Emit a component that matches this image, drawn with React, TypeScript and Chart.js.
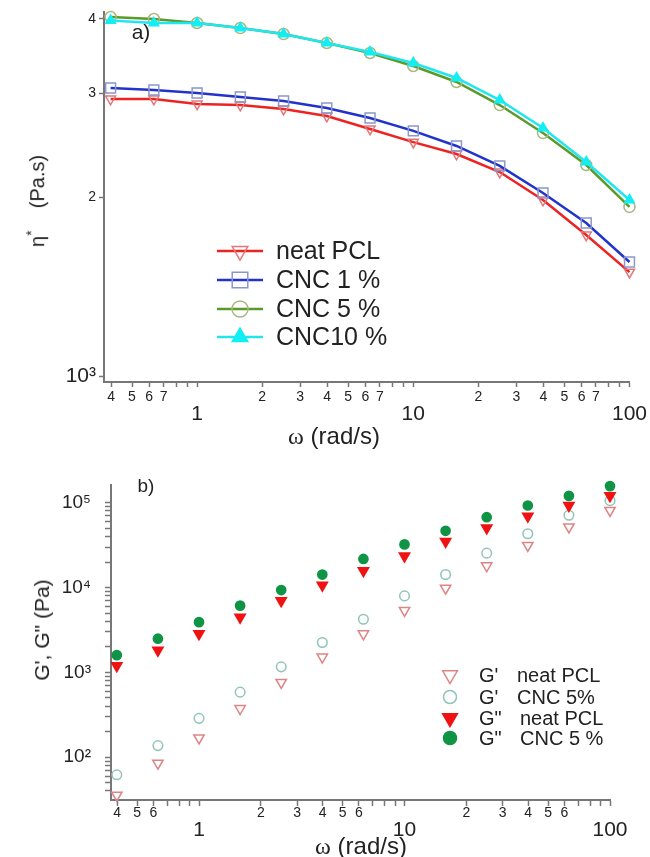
import React, { useEffect, useRef } from 'react';
import { Chart, registerables } from 'chart.js';
import { drawPoint } from 'chart.js/helpers';

Chart.register(...registerables);

const FONT = '"Liberation Sans", Arial, sans-serif';
const AXIS = '#777777';
const TEXT = '#222222';

// angular frequency (rad/s)
const freq = [0.398, 0.631, 1, 1.585, 2.512, 3.981, 6.31, 10, 15.85, 25.12, 39.81, 63.1, 100];

// panel a: complex viscosity (Pa.s)
const etaNeat = [2932, 2932, 2876, 2864, 2820, 2744, 2610, 2480, 2368, 2208, 1981, 1729, 1497];
const etaCnc1 = [3060, 3036, 3001, 2954, 2909, 2831, 2724, 2590, 2443, 2261, 2035, 1811, 1557];
const etaCnc5 = [4031, 4000, 3938, 3862, 3773, 3644, 3505, 3333, 3132, 2864, 2569, 2269, 1928];
const etaCnc10 = [3975, 3938, 3938, 3862, 3773, 3644, 3519, 3372, 3181, 2920, 2619, 2296, 1981];
const etaLabels = ['neat PCL', 'CNC 1 %', 'CNC 5 %', 'CNC10 %'];

// panel b: moduli (Pa)
const gpNeat = [35.7, 85, 169, 374, 762, 1513, 2850, 5370, 9840, 18060, 31400, 51850, 81200];
const gpCnc5 = [62, 137, 287, 585, 1162, 2248, 4234, 7970, 14240, 25430, 43100, 71100, 105700];
const gppNeat = [1194, 1820, 2850, 4460, 6985, 10650, 15820, 23500, 34900, 50500, 69300, 92700, 120500];
const gppCnc5 = [1596, 2496, 3909, 6124, 9340, 14230, 21720, 32270, 46650, 67490, 92670, 120500, 157000];
const gPrefix = ["G'", "G'", 'G"', 'G"'];
const gNames = ['neat PCL', 'CNC 5%', 'neat PCL', 'CNC 5 %'];

// ticks
const xTickValues = [0.4, 0.5, 0.6, 0.7, 0.8, 0.9, 1, 2, 3, 4, 5, 6, 7, 8, 9, 10, 20, 30, 40, 50, 60, 70, 80, 90, 100];
const xTickLabelsA = ['4', '5', '6', '7', '', '', '1', '2', '3', '4', '5', '6', '7', '', '', '10', '2', '3', '4', '5', '6', '7', '', '', '100'];
const xTickLabelsB = ['4', '5', '6', '', '', '', '1', '2', '3', '4', '5', '6', '', '', '', '10', '2', '3', '4', '5', '6', '', '', '', '100'];
const xMajor = [1, 10, 100];

const yTickValuesA = [1000, 2000, 3000, 4000];
const yTickLabelsA = ['10³', '2', '3', '4'];

const yTickValuesB = [
  40, 50, 60, 70, 80, 90,
  100, 200, 300, 400, 500, 600, 700, 800, 900,
  1000, 2000, 3000, 4000, 5000, 6000, 7000, 8000, 9000,
  10000, 20000, 30000, 40000, 50000, 60000, 70000, 80000, 90000,
  100000,
];
const yMajorB = [100, 1000, 10000, 100000];
const yMajorLabelsB = ['10²', '10³', '10⁴', '10⁵'];

const toXY = (ys: number[]) => ys.map((y, i) => ({ x: freq[i], y }));

const legendAPlugin = {
  id: 'legendA',
  afterDraw(chart: any) {
    const ctx = chart.ctx;
    const rows = [251, 280, 309, 337];
    ctx.save();
    chart.data.datasets.forEach((ds: any, i: number) => {
      const y = rows[i];
      ctx.strokeStyle = ds.borderColor;
      ctx.lineWidth = ds.borderWidth;
      ctx.beginPath();
      ctx.moveTo(217, y);
      ctx.lineTo(263, y);
      ctx.stroke();
      ctx.fillStyle = ds.pointBackgroundColor;
      ctx.strokeStyle = ds.pointBorderColor;
      ctx.lineWidth = ds.pointBorderWidth;
      drawPoint(ctx, { pointStyle: ds.pointStyle, rotation: ds.pointRotation || 0, radius: ds.legendRadius, borderWidth: ds.pointBorderWidth }, 240, y);
      ctx.fillStyle = TEXT;
      ctx.font = `25px ${FONT}`;
      ctx.textBaseline = 'middle';
      ctx.textAlign = 'left';
      ctx.fillText(ds.label, 276, y + 1);
    });
    ctx.restore();
  },
};

const legendBPlugin = {
  id: 'legendB',
  afterDraw(chart: any) {
    const ctx = chart.ctx;
    const rows = [215, 237, 258, 278];
    const nameX = [517, 517, 520, 520];
    ctx.save();
    chart.data.datasets.forEach((ds: any, i: number) => {
      const y = rows[i];
      ctx.fillStyle = ds.pointBackgroundColor;
      ctx.strokeStyle = ds.pointBorderColor;
      ctx.lineWidth = ds.pointBorderWidth;
      drawPoint(ctx, { pointStyle: ds.pointStyle, rotation: ds.pointRotation || 0, radius: ds.legendRadius, borderWidth: ds.pointBorderWidth }, 450, y);
      ctx.fillStyle = TEXT;
      ctx.font = `20px ${FONT}`;
      ctx.textBaseline = 'middle';
      ctx.textAlign = 'left';
      ctx.fillText(gPrefix[i], 479, y + 1);
      ctx.fillText(gNames[i], nameX[i], y + 1);
    });
    ctx.restore();
  },
};

const gridOpts = (len: number) => ({
  display: true,
  drawOnChartArea: false,
  drawTicks: true,
  tickLength: len,
  color: AXIS,
  tickColor: AXIS,
  tickWidth: 1.5,
});
const borderOpts = { display: true, color: AXIS, width: 2 };

export default function App() {
  const refA = useRef<HTMLCanvasElement>(null);
  const refB = useRef<HTMLCanvasElement>(null);

  useEffect(() => {
    const lineDs = (label: string, data: number[], line: string, mark: string, fill: string, style: string, rot: number, r: number, lr: number, order: number) => ({
      label,
      data: toXY(data),
      borderColor: line,
      borderWidth: 2.5,
      pointBorderColor: mark,
      pointBackgroundColor: fill,
      pointBorderWidth: 1.5,
      pointStyle: style,
      pointRotation: rot,
      pointRadius: r,
      legendRadius: lr,
      tension: 0,
      clip: false,
      order,
    });

    const chartA = new Chart(refA.current!, {
      type: 'line',
      data: {
        datasets: [
          lineDs(etaLabels[0], etaNeat, '#ee2222', '#e07878', 'rgba(255,255,255,0)', 'triangle', 180, 5.8, 9, 4),
          lineDs(etaLabels[1], etaCnc1, '#2233cc', '#8a98cc', 'rgba(255,255,255,0)', 'rect', 0, 7, 11, 3),
          lineDs(etaLabels[2], etaCnc5, '#5a9a2a', '#a8b880', 'rgba(255,255,255,0)', 'circle', 0, 5.5, 8, 2),
          lineDs(etaLabels[3], etaCnc10, '#22e6ee', '#11eef4', '#11eef4', 'triangle', 0, 5.5, 9, 1),
        ] as any,
      },
      options: {
        responsive: false,
        devicePixelRatio: 1,
        animation: false,
        layout: { padding: { left: 0, top: 12, right: 20, bottom: 0 } },
        plugins: { legend: { display: false }, tooltip: { enabled: false } },
        scales: {
          x: {
            type: 'logarithmic',
            min: 0.371,
            max: 100,
            afterBuildTicks: (s: any) => { s.ticks = xTickValues.map((v) => ({ value: v })); },
            afterFit: (s: any) => { s.height = 78; },
            grid: gridOpts(5),
            border: borderOpts,
            ticks: {
              autoSkip: false,
              maxRotation: 0,
              minRotation: 0,
              padding: 3,
              color: TEXT,
              callback: (_v: any, i: number) => {
                const l = xTickLabelsA[i];
                return xMajor.includes(xTickValues[i]) ? ['', l] : l;
              },
              font: (c: any) => xMajor.includes(c.tick?.value)
                ? { size: 21, family: FONT, lineHeight: 0.76 }
                : { size: 14, family: FONT, lineHeight: 1 },
            },
          },
          y: {
            type: 'logarithmic',
            min: 977,
            max: 4110,
            afterBuildTicks: (s: any) => { s.ticks = yTickValuesA.map((v) => ({ value: v })); },
            afterFit: (s: any) => { s.width = 104; },
            grid: gridOpts(5),
            border: borderOpts,
            ticks: {
              autoSkip: false,
              padding: 3,
              color: TEXT,
              callback: (_v: any, i: number) => yTickLabelsA[i],
              font: (c: any) => c.tick?.value === 1000 ? { size: 21, family: FONT } : { size: 14, family: FONT },
            },
          },
        },
      } as any,
      plugins: [legendAPlugin],
    });

    const ptDs = (label: string, data: number[], mark: string, fill: string, style: string, rot: number, r: number, lr: number, order: number) => ({
      label,
      data: toXY(data),
      showLine: false,
      borderColor: mark,
      pointBorderColor: mark,
      pointBackgroundColor: fill,
      pointBorderWidth: 1.5,
      pointStyle: style,
      pointRotation: rot,
      pointRadius: r,
      legendRadius: lr,
      clip: false,
      order,
    });

    const chartB = new Chart(refB.current!, {
      type: 'line',
      data: {
        datasets: [
          ptDs(gPrefix[0] + ' ' + gNames[0], gpNeat, '#dd8585', 'rgba(255,255,255,0)', 'triangle', 180, 6, 8.5, 4),
          ptDs(gPrefix[1] + ' ' + gNames[1], gpCnc5, '#8fc4b6', 'rgba(255,255,255,0)', 'circle', 0, 4.8, 6.5, 3),
          ptDs(gPrefix[2] + ' ' + gNames[2], gppNeat, '#f01212', '#f01212', 'triangle', 180, 6, 8.5, 2),
          ptDs(gPrefix[3] + ' ' + gNames[3], gppCnc5, '#0f9446', '#0f9446', 'circle', 0, 4.6, 6.5, 1),
        ] as any,
      },
      options: {
        responsive: false,
        devicePixelRatio: 1,
        animation: false,
        layout: { padding: { left: 0, top: 16, right: 40, bottom: 0 } },
        plugins: { legend: { display: false }, tooltip: { enabled: false } },
        scales: {
          x: {
            type: 'logarithmic',
            min: 0.373,
            max: 100,
            afterBuildTicks: (s: any) => { s.ticks = xTickValues.map((v) => ({ value: v })); },
            afterFit: (s: any) => { s.height = 57; },
            grid: gridOpts(6),
            border: borderOpts,
            ticks: {
              autoSkip: false,
              maxRotation: 0,
              minRotation: 0,
              padding: 0,
              color: TEXT,
              callback: (_v: any, i: number) => {
                const l = xTickLabelsB[i];
                return xMajor.includes(xTickValues[i]) ? ['', l] : l;
              },
              font: (c: any) => xMajor.includes(c.tick?.value)
                ? { size: 21, family: FONT, lineHeight: 0.76 }
                : { size: 14, family: FONT, lineHeight: 1 },
            },
          },
          y: {
            type: 'logarithmic',
            min: 31.3,
            max: 160000,
            afterBuildTicks: (s: any) => { s.ticks = yTickValuesB.map((v) => ({ value: v })); },
            afterFit: (s: any) => { s.width = 111; },
            grid: gridOpts(6),
            border: borderOpts,
            ticks: {
              autoSkip: false,
              padding: 14,
              color: TEXT,
              callback: (v: any) => {
                const k = yMajorB.indexOf(v);
                return k >= 0 ? yMajorLabelsB[k] : '';
              },
              font: { size: 19, family: FONT },
            },
          },
        },
      } as any,
      plugins: [legendBPlugin],
    });

    return () => {
      chartA.destroy();
      chartB.destroy();
    };
  }, []);

  const abs = (s: any) => ({ position: 'absolute', whiteSpace: 'nowrap', color: TEXT, fontFamily: FONT, ...s });

  return (
    <div style={{ position: 'absolute', left: 0, top: 0, width: 650, height: 857, background: '#fff', overflow: 'hidden' }}>
      <canvas ref={refA} width={650} height={460} style={{ position: 'absolute', left: 0, top: 0 }} />
      <canvas ref={refB} width={650} height={397} style={{ position: 'absolute', left: 0, top: 460 }} />
      <div style={abs({ left: 141, top: 32, fontSize: 21, transform: 'translate(-50%,-50%)' })}>a)</div>
      <div style={abs({ left: 146, top: 486, fontSize: 19, transform: 'translate(-50%,-50%)' })}>b)</div>
      <div style={abs({ left: 334, top: 436, fontSize: 24, transform: 'translate(-50%,-50%)' })}>
        <span style={{ fontFamily: '"Liberation Serif", serif' }}>ω</span> (rad/s)
      </div>
      <div style={abs({ left: 361, top: 846, fontSize: 24, transform: 'translate(-50%,-50%)' })}>
        <span style={{ fontFamily: '"Liberation Serif", serif' }}>ω</span> (rad/s)
      </div>
      <div style={abs({ left: 36, top: 201, fontSize: 20, transform: 'translate(-50%,-50%) rotate(-90deg)' })}>
        η<sup style={{ fontSize: 14 }}>*</sup>&nbsp;&nbsp;&nbsp; (Pa.s)
      </div>
      <div style={abs({ left: 42, top: 630, fontSize: 21, transform: 'translate(-50%,-50%) rotate(-90deg)' })}>
        G', G" (Pa)
      </div>
    </div>
  );
}
